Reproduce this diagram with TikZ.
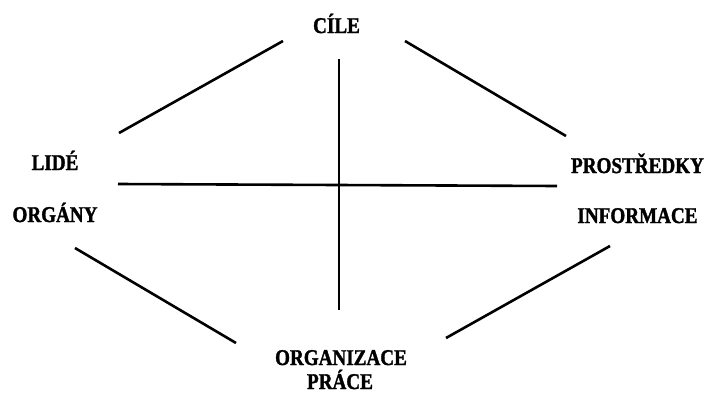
\documentclass[tikz,border=0pt]{standalone}
\usepackage{fontspec}
\setmainfont{Liberation Serif}[FakeStretch=0.85, BoldFeatures={FakeBold=1.5}]
\begin{document}
\begin{tikzpicture}[x=1pt,y=-1pt,
  lbl/.style={font=\bfseries\fontsize{22.5}{26}\selectfont, anchor=base, inner sep=0pt},
  ln/.style={line width=2.6pt, black}]
\useasboundingbox (0,0) rectangle (713,394);
% labels
\node[lbl] (cile) at (336.5,33) {CÍLE};
\node[lbl] (lide) at (55,170) {LIDÉ};
\node[lbl] (organy) at (55,222) {ORGÁNY};
\node[lbl] (prostredky) at (637.5,173) {PROSTŘEDKY};
\node[lbl] (informace) at (637.5,223) {INFORMACE};
\node[lbl] (organizace) at (341,365) {ORGANIZACE};
\node[lbl] (prace) at (340,389) {PRÁCE};
% line end points
\coordinate (tl1) at (119,133); \coordinate (tl2) at (283,41);
\coordinate (tr1) at (405,41);  \coordinate (tr2) at (566,136);
\coordinate (v1) at (339,59);   \coordinate (v2) at (339,310);
\coordinate (h1) at (118,184);  \coordinate (h2) at (557,186);
\coordinate (bl1) at (75,248);  \coordinate (bl2) at (236,343);
\coordinate (br1) at (446,338); \coordinate (br2) at (610,246);
\draw[ln] (tl1) -- (tl2);
\draw[ln] (tr1) -- (tr2);
\draw[ln] (v1) -- (v2);
\draw[ln] (h1) -- (h2);
\draw[ln] (bl1) -- (bl2);
\draw[ln] (br1) -- (br2);
\end{tikzpicture}
\end{document}
